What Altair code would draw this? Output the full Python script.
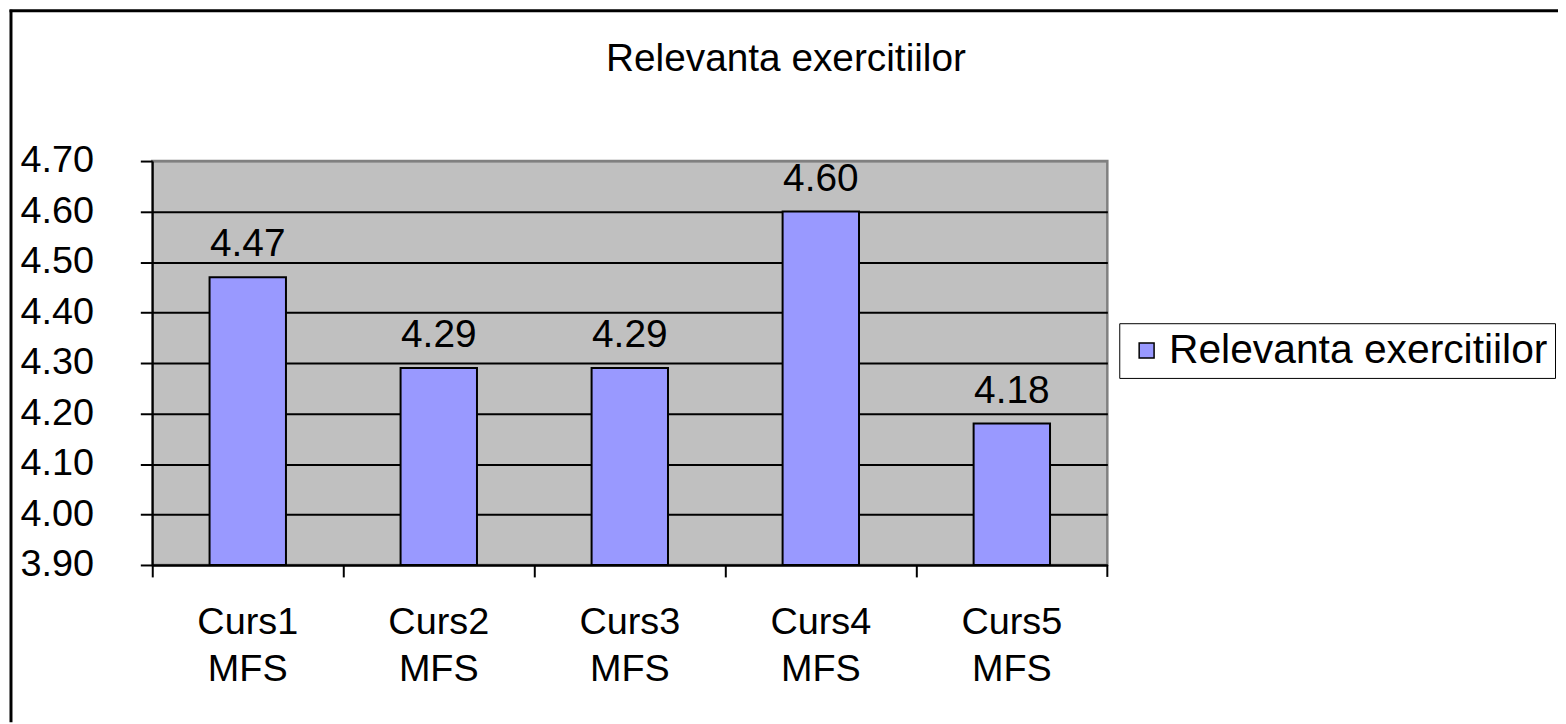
import altair as alt
import pandas as pd

categories = ["Curs1 MFS", "Curs2 MFS", "Curs3 MFS", "Curs4 MFS", "Curs5 MFS"]
values = [4.47, 4.29, 4.29, 4.60, 4.18]
series_name = "Relevanta exercitiilor"
chart_title = "Relevanta exercitiilor"
y_ticks = [3.9, 4.0, 4.1, 4.2, 4.3, 4.4, 4.5, 4.6, 4.7]
y_min, y_max = 3.9, 4.7

df = pd.DataFrame({"cat": categories, "value": values,
                   "series": [series_name] * len(categories)})
one = pd.DataFrame({"t": [chart_title]})

FONT = "Liberation Sans"
FS = 38
W, H = 960, 406
PAD_L, PAD_T = 145, 152
TOTAL_W, TOTAL_H = 1558, 716

x_enc = alt.X(
    "cat:N", sort=categories,
    scale=alt.Scale(paddingInner=0, paddingOuter=0),
    axis=alt.Axis(title=None, bandPosition=0,
                  labelExpr="split(datum.label, ' ')", labelLineHeight=47,
                  labelFontSize=FS, labelPadding=27, labelAngle=0,
                  tickSize=12, tickWidth=2, tickColor="black",
                  domainColor="black", domainWidth=2, grid=False),
)
y_enc = alt.Y(
    "value:Q",
    scale=alt.Scale(domain=[y_min, y_max], zero=False, nice=False),
    axis=alt.Axis(title=None, values=y_ticks, format=".2f",
                  labelFontSize=FS, labelPadding=47,
                  tickSize=12, tickWidth=2, tickColor="black",
                  domainColor="black", domainWidth=2,
                  grid=True, gridWidth=2,
                  gridColor={"condition": {"test": "datum.value > 4.69", "value": "#808080"},
                             "value": "black"}),
)

bars = alt.Chart(df).mark_bar(
    width=alt.RelativeBandSize(0.4), stroke="black", strokeWidth=2
).encode(
    x=x_enc, y=y_enc, y2=alt.datum(y_min),
    color=alt.Color("series:N",
                    scale=alt.Scale(domain=[series_name], range=["#9999FF"]),
                    legend=alt.Legend(title=None, orient="none", legendX=972, legendY=163,
                                      symbolType="square", symbolSize=225,
                                      symbolStrokeColor="black", symbolStrokeWidth=1.5,
                                      labelFontSize=41, labelFont=FONT, labelColor="black",
                                      labelLimit=1000,
                                      strokeColor="black", padding=7, labelOffset=2)),
)

labels = alt.Chart(df).mark_text(
    font=FONT, fontSize=39, baseline="alphabetic", dy=-21, color="black"
).encode(
    x=alt.X("cat:N", sort=categories),
    y=alt.Y("value:Q"),
    text=alt.Text("value:Q", format=".2f"),
)

title = alt.Chart(one).mark_text(
    font=FONT, fontSize=39, baseline="alphabetic", align="center", color="black"
).encode(x=alt.value(637), y=alt.value(-91), text="t:N")

left_border = alt.Chart(one).mark_rule(color="black", strokeWidth=3).encode(
    x=alt.value(-142), y=alt.value(-152), y2=alt.value(TOTAL_H - PAD_T))
top_border = alt.Chart(one).mark_rule(color="black", strokeWidth=3).encode(
    x=alt.value(-143.5), x2=alt.value(TOTAL_W - PAD_L), y=alt.value(-151))
last_tick = alt.Chart(one).mark_rule(color="black", strokeWidth=2).encode(
    x=alt.value(W), y=alt.value(H), y2=alt.value(H + 12))

chart = alt.layer(bars, labels, title, left_border, top_border, last_tick).properties(
    width=W, height=H,
    autosize=alt.AutoSizeParams(type="none"),
    padding={"left": PAD_L, "top": PAD_T,
             "right": TOTAL_W - PAD_L - W, "bottom": TOTAL_H - PAD_T - H},
    background="white",
).configure(font=FONT).configure_view(
    fill="#C0C0C0", stroke="#808080", strokeWidth=2.5
).configure_axis(
    labelFont=FONT, labelColor="black"
)

chart.save("out.html", embed_options={"renderer": "svg", "actions": False})
